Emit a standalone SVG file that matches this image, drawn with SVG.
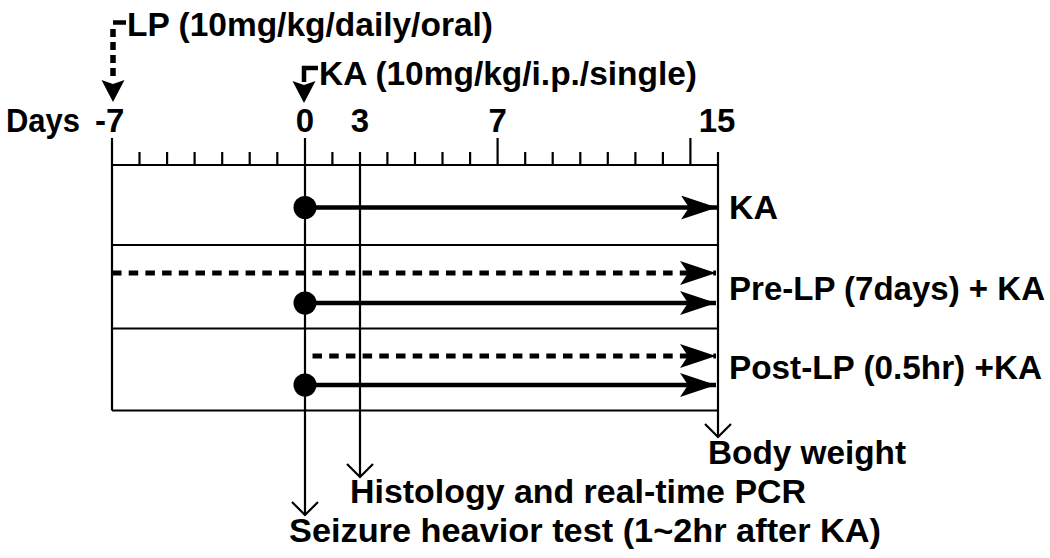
<svg xmlns="http://www.w3.org/2000/svg" width="1050" height="558" viewBox="0 0 1050 558">
<style>
  .t{font-family:"Liberation Sans",Arial,Helvetica,sans-serif;font-weight:bold;font-size:33px;fill:#000}
  .ln{stroke:#000;stroke-width:2.2;fill:none}
  .thick{stroke:#000;stroke-width:4.5;fill:none}
  .dash{stroke:#000;stroke-width:5;fill:none;stroke-dasharray:9.5 7.2}
  .vdash{stroke:#000;stroke-width:5.5;fill:none;stroke-dasharray:8 5}
  .open{stroke:#000;stroke-width:2.2;fill:none}
  .dot{fill:#000}
</style>
<defs>
  <marker id="ah" viewBox="0 0 36 24" refX="36" refY="12" markerWidth="36" markerHeight="24" markerUnits="userSpaceOnUse" orient="auto">
    <path d="M0,0 L36,12 L0,24 L8,12 Z" fill="#000"/>
  </marker>
  <path id="down" d="M-11.5,0 L0,4 L11.5,0 L0,22 Z" fill="#000"/>
  <path id="vopen" d="M-13,-13 L0,0 L13,-13" class="open"/>
</defs>

<rect width="1050" height="558" fill="#fff"/>

<g id="axis">
  <text class="t" x="6" y="132" textLength="74" lengthAdjust="spacingAndGlyphs">Days</text>
  <text class="t" x="95" y="132">-7</text>
  <text class="t" x="305" y="132" text-anchor="middle">0</text>
  <text class="t" x="360" y="132" text-anchor="middle">3</text>
  <text class="t" x="497.6" y="132" text-anchor="middle">7</text>
  <text class="t" x="717" y="132" text-anchor="middle">15</text>
  <line class="ln" x1="112" y1="165" x2="718" y2="165"/>
  <path class="ln" d="M139.5,152V165 M167.1,152V165 M194.6,152V165 M222.2,152V165 M249.7,152V165 M277.3,152V165
    M332.4,152V165 M387.4,152V165 M415,152V165 M442.5,152V165 M470.1,152V165
    M525.2,152V165 M552.7,152V165 M580.3,152V165 M607.8,152V165 M635.4,152V165 M662.9,152V165
    M497.6,138V165 M690.4,138V165"/>
</g>

<g id="frame">
  <line class="ln" x1="112" y1="138" x2="112" y2="410.5"/>
  <line class="ln" x1="112" y1="245" x2="718" y2="245"/>
  <line class="ln" x1="112" y1="328.5" x2="718" y2="328.5"/>
  <line class="ln" x1="112" y1="410.5" x2="718" y2="410.5"/>
</g>

<g id="lp-dose">
  <path class="vdash" d="M113,29V80"/>
  <line x1="113" y1="22.5" x2="126" y2="22.5" stroke="#000" stroke-width="4.5"/>
  <use href="#down" x="113" y="80"/>
  <text class="t" x="127" y="36" textLength="366" lengthAdjust="spacingAndGlyphs">LP (10mg/kg/daily/oral)</text>
</g>

<g id="ka-dose">
  <path d="M304,66V82 M301.8,68H318" stroke="#000" stroke-width="4.5" fill="none"/>
  <use href="#down" x="304" y="81"/>
  <text class="t" x="319" y="85" textLength="378" lengthAdjust="spacingAndGlyphs">KA (10mg/kg/i.p./single)</text>
</g>

<g id="row-ka">
  <circle class="dot" cx="305" cy="207.5" r="11.5"/>
  <text class="t" x="729" y="219" textLength="49" lengthAdjust="spacingAndGlyphs">KA</text>
</g>

<g id="row-pre-lp">
  <circle class="dot" cx="305" cy="303" r="11.5"/>
  <text class="t" x="729" y="300" textLength="316" lengthAdjust="spacingAndGlyphs">Pre-LP (7days) + KA</text>
</g>

<g id="row-post-lp">
  <circle class="dot" cx="305" cy="385" r="11.5"/>
  <text class="t" x="729" y="379" textLength="313" lengthAdjust="spacingAndGlyphs">Post-LP (0.5hr) +KA</text>
</g>

<g id="body-weight">
  <text class="t" x="708" y="464" textLength="198" lengthAdjust="spacingAndGlyphs">Body weight</text>
</g>
<g id="histology">
  <text class="t" x="350" y="503" textLength="456" lengthAdjust="spacingAndGlyphs">Histology and real-time PCR</text>
</g>
<g id="seizure">
  <text class="t" x="289" y="542" textLength="592" lengthAdjust="spacingAndGlyphs">Seizure heavior test (1~2hr after KA)</text>
</g>

<g id="connectors">
  <line class="thick" x1="305" y1="207.5" x2="717" y2="207.5" marker-end="url(#ah)"/>
  <line class="dash" x1="112" y1="273" x2="716" y2="273" marker-end="url(#ah)"/>
  <line class="thick" x1="305" y1="303" x2="716" y2="303" marker-end="url(#ah)"/>
  <line class="dash" x1="312.5" y1="356" x2="716" y2="356" marker-end="url(#ah)"/>
  <line class="thick" x1="305" y1="385" x2="716" y2="385" marker-end="url(#ah)"/>
  <line class="ln" x1="305" y1="138" x2="305" y2="515"/>
  <use href="#vopen" x="305" y="515"/>
  <line class="ln" x1="360" y1="152" x2="360" y2="477"/>
  <use href="#vopen" x="360" y="477"/>
  <line class="ln" x1="718" y1="152" x2="718" y2="437"/>
  <use href="#vopen" x="718" y="437"/>
</g>
</svg>
